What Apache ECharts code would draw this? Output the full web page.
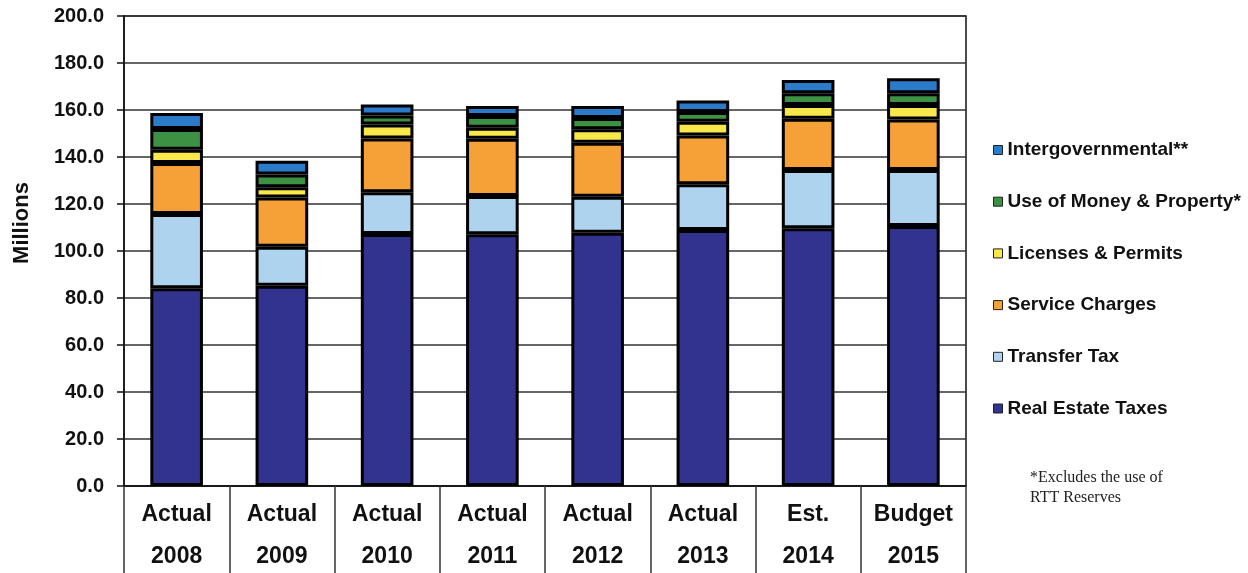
<!DOCTYPE html>
<html>
<head>
<meta charset="utf-8">
<script src="https://cdn.jsdelivr.net/npm/echarts@6/dist/echarts.min.js"></script>
<style>
  html, body { margin: 0; padding: 0; background: #fff; }
  #chart { width: 1248px; height: 573px; }
</style>
</head>
<body>
<div id="chart"></div>
<script>
const stages = ['Actual', 'Actual', 'Actual', 'Actual', 'Actual', 'Actual', 'Est.', 'Budget']
const years = ['2008', '2009', '2010', '2011', '2012', '2013', '2014', '2015']

const realEstate = [84.1, 85.2, 107.2, 107.1, 107.8, 108.9, 109.7, 110.6]
const transferTax = [31.6, 16.6, 17.8, 16.3, 15.3, 19.5, 24.8, 23.9]
const serviceCharges = [21.7, 21.0, 22.9, 24.4, 23.0, 20.7, 21.8, 21.5]
const licenses = [5.7, 4.3, 5.9, 4.7, 5.7, 5.9, 5.8, 6.1]
const useOfMoney = [8.8, 5.5, 3.9, 4.9, 4.8, 4.1, 5.0, 5.0]
const intergov = [6.8, 5.8, 4.6, 4.3, 5.1, 4.9, 5.7, 6.4]

const yTicks = [0, 20, 40, 60, 80, 100, 120, 140, 160, 180, 200]

const categories = stages.map((s, i) => s + '\n' + years[i])

const font = '"Liberation Sans", Arial, sans-serif'

const chart = echarts.init(document.getElementById('chart'))

function seg(name, data, color) {
  return {
    name: name,
    type: 'bar',
    stack: 'total',
    data: data,
    barWidth: '50%',
    itemStyle: {
      color: color,
      borderColor: '#000',
      borderWidth: 3
    }
  }
}

const option = {
  animation: false,
  backgroundColor: '#fff',
  grid: {
    left: 124,
    right: 282,
    top: 16,
    bottom: 87,
    outerBoundsMode: 'none',
    show: true,
    borderColor: '#111',
    borderWidth: 1.5
  },
  title: {
    text: '*Excludes the use of\nRTT Reserves',
    left: 1025,
    top: 463,
    textStyle: {
      fontFamily: '"Liberation Serif", "Times New Roman", serif',
      fontWeight: 'normal',
      fontSize: 16,
      lineHeight: 20,
      color: '#222'
    }
  },
  legend: {
    orient: 'vertical',
    left: 988,
    top: 135,
    itemWidth: 9,
    itemHeight: 9,
    itemGap: 31.7,
    icon: 'rect',
    itemStyle: { borderColor: '#222', borderWidth: 1 },
    textStyle: {
      fontFamily: font,
      fontWeight: 'bold',
      fontSize: 19,
      lineHeight: 20,
      color: '#111'
    },
    data: ['Intergovernmental**', 'Use of Money & Property*', 'Licenses & Permits',
      'Service Charges', 'Transfer Tax', 'Real Estate Taxes']
  },
  graphic: [{
    type: 'text',
    x: 22,
    y: 223,
    rotation: Math.PI / 2,
    style: {
      text: 'Millions',
      fontFamily: font,
      fontWeight: 'bold',
      fontSize: 22,
      fill: '#111',
      textAlign: 'center',
      textVerticalAlign: 'middle'
    }
  }],
  xAxis: {
    type: 'category',
    data: categories,
    axisLine: { lineStyle: { color: '#111', width: 1.5 } },
    axisTick: { show: true, length: 87, lineStyle: { color: '#333', width: 1.5 } },
    axisLabel: {
      margin: 8,
      fontFamily: font,
      fontWeight: 'bold',
      fontSize: 23,
      lineHeight: 42,
      color: '#111'
    }
  },
  yAxis: {
    type: 'value',
    min: yTicks[0],
    max: yTicks[yTicks.length - 1],
    interval: 20,
    axisLine: { show: true, lineStyle: { color: '#111', width: 1.5 } },
    axisTick: { show: true, length: 7, lineStyle: { color: '#111', width: 1.5 } },
    splitLine: { lineStyle: { color: '#333', width: 1.5 } },
    axisLabel: {
      margin: 20,
      fontFamily: font,
      fontWeight: 'bold',
      fontSize: 20,
      color: '#111',
      formatter: v => v.toFixed(1)
    }
  },
  series: [
    seg('Real Estate Taxes', realEstate, '#32338f'),
    seg('Transfer Tax', transferTax, '#add3ef'),
    seg('Service Charges', serviceCharges, '#f6a137'),
    seg('Licenses & Permits', licenses, '#f8e84b'),
    seg('Use of Money & Property*', useOfMoney, '#3d9142'),
    seg('Intergovernmental**', intergov, '#2a7bca')
  ]
}

chart.setOption(option)
</script>
</body>
</html>
